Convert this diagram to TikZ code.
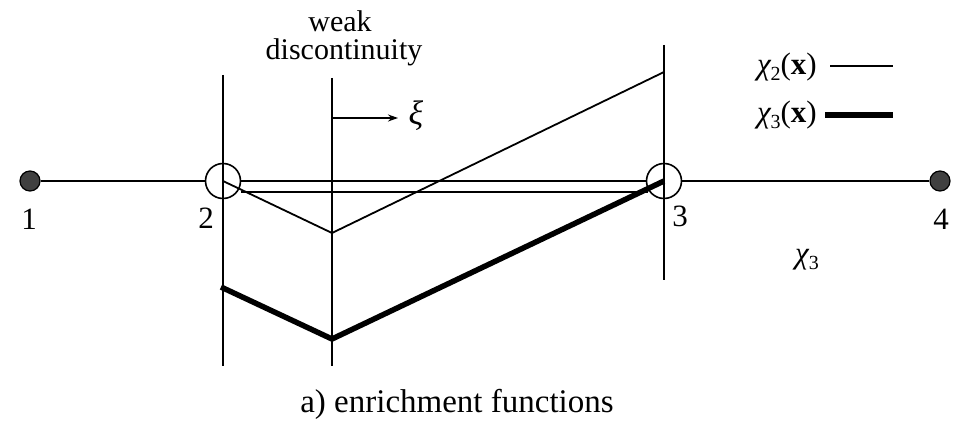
\documentclass[tikz,border=0pt]{standalone}
\usepackage{fontspec}
\setmainfont{Liberation Serif}
\usetikzlibrary{arrows.meta}
\newcommand{\chisub}[1]{{\itshape χ}\raisebox{-0.4ex}{\fontsize{20}{20}\selectfont #1}}
\begin{document}
\begin{tikzpicture}[x=1pt,y=-1pt,
  thinline/.style={line width=1.8pt},
  thickline/.style={line width=5.5pt},
  vline/.style={line width=1.6pt},
  axis/.style={line width=1.8pt},
  fulldot/.style={circle,draw=black,line width=1.2pt,fill=black!75,minimum size=20pt,inner sep=0pt},
  opendot/.style={circle,draw=black,line width=1.6pt,minimum size=35pt,inner sep=0pt},
  lbl/.style={font=\fontsize{31}{31}\selectfont,inner sep=0pt},
  txt/.style={font=\fontsize{30}{30}\selectfont,inner sep=0pt}]
\useasboundingbox (0,0) rectangle (961,425);
% nodes on axis
\node[fulldot] (n1) at (30,181) {};
\node[opendot] (n2) at (223,181) {};
\node[opendot] (n3) at (664,181) {};
\node[fulldot] (n4) at (940,181) {};
\node[lbl] (l1) at (29,219) {1};
\node[lbl] (l2) at (206,218) {2};
\node[lbl] (l3) at (680,216) {3};
\node[lbl] (l4) at (941,219) {4};
% axis
\draw[axis] (n1) -- (n2);
\draw[axis] (n2) -- (n3);
\draw[axis] (n3) -- (n4);
\coordinate (q2) at (241,192);
\coordinate (q3) at (648,192);
\draw[thinline] (q2) -- (q3);
% vertical lines
\coordinate (v2t) at (223,75);  \coordinate (v2b) at (223,366);
\coordinate (v3t) at (332,78);  \coordinate (v3b) at (332,366);
\coordinate (v4t) at (664,45);  \coordinate (v4b) at (664,280);
\draw[vline] (v2t) -- (v2b);
\draw[vline] (v3t) -- (v3b);
\draw[vline] (v4t) -- (v4b);
% chi2 (thin)
\coordinate (a1) at (332,233);
\coordinate (a2) at (664,72);
\draw[thinline,line join=miter] (n2.center) -- (a1) -- (a2);
% chi3 (thick)
\coordinate (b0) at (221,287);
\coordinate (b1) at (332,339);
\draw[thickline,line join=miter] (b0) -- (b1) -- (n3.center);
% discontinuity label and arrow
\node[txt] (wd1) at (340,21) {weak};
\node[txt] (wd2) at (344,52) {discontinuity};
\coordinate (xs) at (332,118);
\coordinate (xe) at (398,118);
\node[lbl,font=\itshape\fontsize{34}{34}\selectfont] (xi) at (416,116) {ξ};
\draw[line width=1.6pt,-{Stealth[length=10pt,width=7pt]}] (xs) -- (xe);
% legend
\node[lbl,anchor=east] (lg2) at (817,67) {\chisub{2}(\textbf{x})};
\node[lbl,anchor=east] (lg3) at (817,115) {\chisub{3}(\textbf{x})};
\coordinate (lg2a) at (830,66); \coordinate (lg2b) at (893,66);
\coordinate (lg3a) at (825,115); \coordinate (lg3b) at (893,115);
\draw[thinline] (lg2a) -- (lg2b);
\draw[thickline] (lg3a) -- (lg3b);
% chi3 label
\node[lbl] (c3) at (807,260) {\chisub{3}};
% caption
\node[lbl,font=\fontsize{33}{33}\selectfont] (cap) at (457,404) {a) enrichment functions};
\end{tikzpicture}
\end{document}
